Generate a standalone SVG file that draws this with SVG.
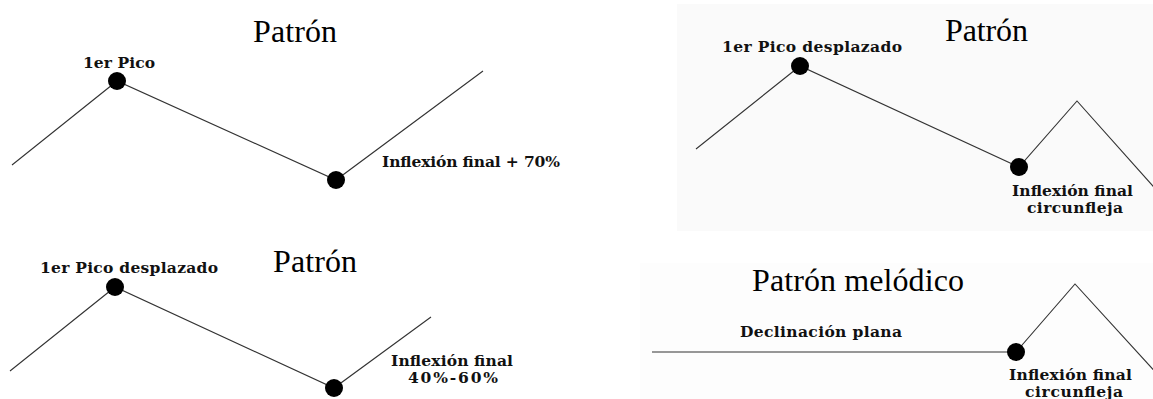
<svg xmlns="http://www.w3.org/2000/svg" width="1153" height="399" viewBox="0 0 1153 399">
<style>
.title{font-family:"Liberation Serif","Times New Roman",serif;font-size:32px;fill:#000}
.lbl{font-family:"DejaVu Serif","Liberation Serif",serif;font-size:15.5px;font-weight:bold;fill:#111}
.ln{fill:none;stroke:#333;stroke-width:1.1}
.dot{fill:#000}
</style>
<rect x="0" y="0" width="1153" height="399" fill="#fff"/>
<rect x="677" y="4" width="476" height="227" fill="#fafafa"/>
<rect x="640" y="263" width="513" height="136" fill="#fdfdfd"/>

<g id="connectors">
  <polyline class="ln" points="12,165 117,81 336,180 483,71"/>
  <polyline class="ln" points="696,149 800,66 1019,167 1077,101 1160,194"/>
  <polyline class="ln" points="10,371 115,287 334,388 431,317"/>
  <polyline class="ln" points="652,352 1016,352 1075,284 1160,377"/>
</g>

<g id="panel1">
  <text class="title" x="253" y="42" textLength="84">Patrón</text>
  <g id="p1-peak"><circle class="dot" cx="117" cy="81" r="9"/><text class="lbl" x="83" y="68" textLength="72">1er Pico</text></g>
  <g id="p1-final"><circle class="dot" cx="336" cy="180" r="9"/><text class="lbl" x="382" y="167" textLength="178">Inflexión final + 70%</text></g>
</g>

<g id="panel2">
  <text class="title" x="945" y="41" textLength="83">Patrón</text>
  <g id="p2-peak"><circle class="dot" cx="800" cy="66" r="9"/><text class="lbl" x="722" y="52" textLength="180">1er Pico desplazado</text></g>
  <g id="p2-final"><circle class="dot" cx="1019" cy="167" r="9"/>
    <text class="lbl"><tspan x="1012" y="196" textLength="121">Inflexión final</tspan><tspan x="1027" y="213" textLength="96">circunfleja</tspan></text></g>
</g>

<g id="panel3">
  <text class="title" x="273" y="272" textLength="84">Patrón</text>
  <g id="p3-peak"><circle class="dot" cx="115" cy="287" r="9"/><text class="lbl" x="40" y="273" textLength="178">1er Pico desplazado</text></g>
  <g id="p3-final"><circle class="dot" cx="334" cy="388" r="9"/>
    <text class="lbl"><tspan x="391" y="366" textLength="122">Inflexión final</tspan><tspan x="408" y="383" textLength="90">40%-60%</tspan></text></g>
</g>

<g id="panel4">
  <text class="title" x="752" y="291" textLength="212">Patrón melódico</text>
  <g id="p4-decl"><text class="lbl" x="740" y="337" textLength="162">Declinación plana</text></g>
  <g id="p4-final"><circle class="dot" cx="1016" cy="352" r="9"/>
    <text class="lbl"><tspan x="1009" y="380" textLength="123">Inflexión final</tspan><tspan x="1025" y="397" textLength="98">circunfleja</tspan></text></g>
</g>
</svg>
